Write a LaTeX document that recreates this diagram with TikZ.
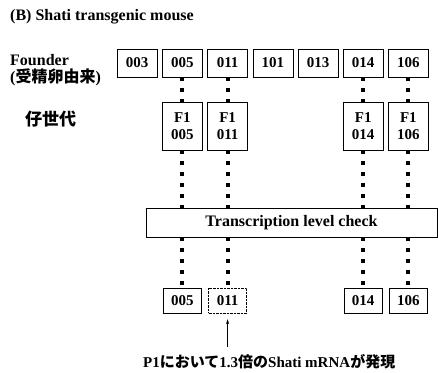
\documentclass[tikz,border=0pt]{standalone}
\usepackage{fontspec}
\setmainfont{Liberation Serif}
\newfontfamily\jpfont{Noto Sans CJK JP}
\usetikzlibrary{arrows.meta}

\begin{document}
\begin{tikzpicture}[x=1pt,y=-1pt,baseline]

    \tikzset{
      idbox/.style={
        draw,
        thin,
        fill=white,
        minimum width=40pt,
        minimum height=28pt,
        inner sep=0pt,
        font=\bfseries\fontsize{15}{17}\selectfont,
      },
      fonebox/.style={idbox, minimum height=48pt, align=center},
      endbox/.style={idbox, minimum width=38pt, minimum height=25pt},
      link/.style={line width=4pt, dash pattern=on 4pt off 7pt},
      label/.style={anchor=west, inner sep=0pt, font=\bfseries\fontsize{16}{17}\selectfont},
    }
    \useasboundingbox (0,0) rectangle (438,372);

    % heading and row labels
    \node[label] (title) at (10,17) {(B) Shati transgenic mouse};
    \node[label, align=left] (founder) at (10,70) {Founder\\({\jpfont 受精卵由来})};
    \node[label, font=\jpfont\bfseries\fontsize{17}{17}\selectfont] (pups) at (25,119) {仔世代};

    % founder row
    \foreach \id [count=\i] in {003,005,011,101,013,014,106}
      \node[idbox] (t\id) at (92+45.2*\i,63) {\id};

    % F1 row
    \foreach \id in {005,011,014,106}
      \node[fonebox] (f\id) at (t\id |- 0,126) {F1\\\id};

    % check
    \node[idbox, minimum width=291pt, minimum height=29pt, font=\bfseries\fontsize{16}{16}\selectfont] (check) at (291.5,222.5) {Transcription level check};

    % selected lines
    \foreach \id in {005,014,106}
      \node[endbox] (b\id) at (t\id |- 0,300.5) {\id};
    \node[endbox, densely dotted] (b011) at (t011 |- 0,300.5) {011};

    \foreach \id in {005,011,014,106} {
      \draw[link] (t\id.south) -- (f\id.north);
      \draw[link] (f\id.south) -- (f\id |- check.north);
      \draw[link] (check.south -| b\id) -- (b\id.north);
    }

    % note
    \node[anchor=west, inner sep=0pt, font=\bfseries\fontsize{15}{16}\selectfont] (note) at (143,362)
      {P1{\jpfont において}1.3{\jpfont 倍の}Shati mRNA{\jpfont が発現}};
    \coordinate (foot) at (b011 |- 0,347);
    \draw[-{Stealth[length=5pt,width=3pt]}, shorten >=6pt] (foot) -- (b011.south);

\end{tikzpicture}
\end{document}
